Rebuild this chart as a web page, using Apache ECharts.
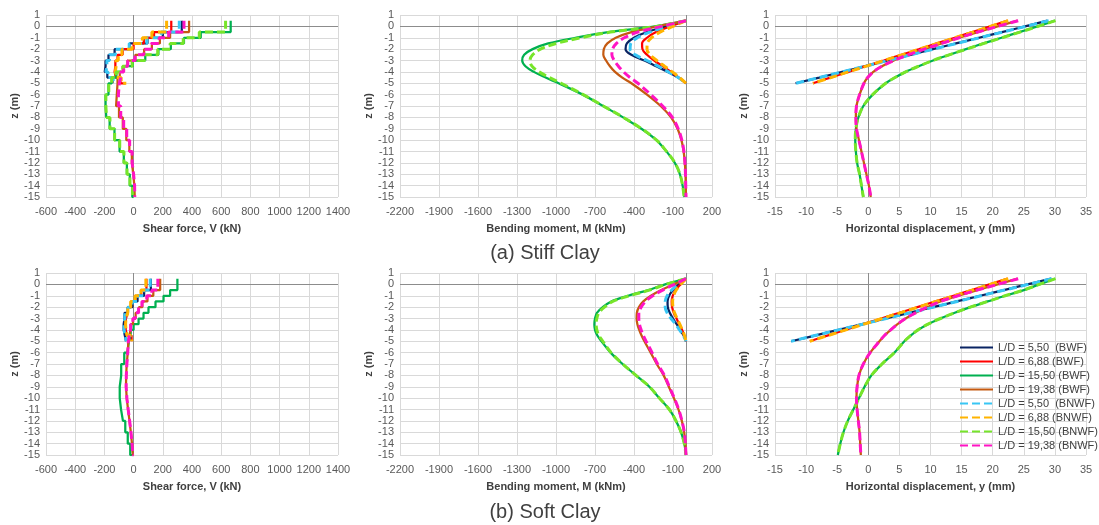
<!DOCTYPE html>
<html>
<head>
<meta charset="utf-8">
<script src="https://cdn.jsdelivr.net/npm/echarts@6/dist/echarts.min.js"></script>
<style>
  html, body { margin: 0; padding: 0; background: #fff; }
  #main { width: 1099px; height: 525px; }
</style>
</head>
<body>
<div id="main"></div>
<script>
// depth nodes (m)
const zShort = [0.5, 0, -0.5, -1, -1.5, -2, -2.5, -3, -3.5, -4, -4.5, -5];
const zLong = [0.5, 0, -0.5, -1, -1.5, -2, -2.5, -3, -3.5, -4, -4.5, -5, -6, -7, -8, -9, -10, -11, -12, -13, -14, -15];

const seriesNames = [
  'L/D = 5,50  (BWF)', 'L/D = 6,88 (BWF)', 'L/D = 15,50 (BWF)', 'L/D = 19,38 (BWF)',
  'L/D = 5,50  (BNWF)', 'L/D = 6,88 (BNWF)', 'L/D = 15,50 (BNWF)', 'L/D = 19,38 (BNWF)'
];
const colors = ['#0A2463', '#FF0000', '#00B050', '#C55A11', '#38C6F4', '#FFB400', '#77E52A', '#FF14C4'];

const xTicksShear = { min: -600, max: 1400, interval: 200 };
const xTicksMoment = { min: -2200, max: 200, interval: 300 };
const xTicksDisp = { min: -15, max: 35, interval: 5 };
const zTicks = { min: -15, max: 1, interval: 1 };

// ---- (a) stiff clay ----
// shear force V (kN)
const stiffV_bwf550 = [330, 330, 200, 95, -28, -130, -172, -192, -198, -180, -145, -145];
const stiffV_bwf688 = [258, 258, 140, 70, 0, -75, -110, -125, -130, -122, -90, -55];
const stiffV_bwf1550 = [665, 665, 460, 345, 255, 170, 80, -5, -70, -118, -150, -172, -192, -187, -164, -131, -96, -67, -46, -26, -9, 0];
const stiffV_bwf1938 = [380, 380, 250, 180, 125, 72, 12, -42, -72, -95, -110, -115, -120, -100, -74, -50, -29, -12, -2, 5, 8, 5];
const stiffV_bnwf550 = [313, 313, 190, 90, -30, -125, -165, -183, -190, -175, -140, -140];
const stiffV_bnwf688 = [226, 226, 125, 60, -10, -80, -105, -120, -125, -118, -85, -50];
const stiffV_bnwf1550 = [630, 630, 450, 340, 250, 165, 75, -10, -75, -120, -150, -170, -190, -185, -162, -130, -95, -66, -45, -25, -8, 0];
const stiffV_bnwf1938 = [345, 345, 240, 175, 120, 70, 10, -40, -68, -88, -98, -104, -104, -88, -68, -47, -27, -10, 0, 7, 8, 5];

// bending moment M (kNm)
const stiffM_bwf550 = [0, -150, -300, -400, -455, -465, -420, -320, -230, -140, -60, 0];
const stiffM_bwf688 = [0, -120, -230, -300, -338, -335, -300, -245, -180, -115, -55, 0];
const stiffM_bwf1550 = [0, -240, -600, -850, -1060, -1180, -1245, -1260, -1235, -1170, -1080, -980, -795, -638, -484, -343, -228, -150, -86, -47, -26, -12];
const stiffM_bwf1938 = [0, -220, -420, -540, -605, -632, -636, -615, -585, -546, -490, -420, -300, -195, -115, -65, -35, -18, -9, -4, -2, 0];
const stiffM_bnwf550 = [0, -140, -280, -375, -425, -430, -390, -300, -215, -135, -60, 0];
const stiffM_bnwf688 = [0, -100, -200, -265, -298, -300, -275, -225, -165, -105, -50, 0];
const stiffM_bnwf1550 = [0, -226, -580, -810, -1000, -1120, -1180, -1200, -1185, -1130, -1050, -960, -790, -636, -482, -341, -226, -149, -85, -46, -26, -15];
const stiffM_bnwf1938 = [0, -190, -370, -475, -535, -565, -570, -552, -520, -480, -430, -370, -270, -180, -105, -60, -32, -16, -8, -4, -2, 0];

// horizontal displacement y (mm)
const stiffY_bwf550 = [28.8, 25.2, 21.5, 17.8, 14.1, 10.4, 6.8, 3.1, -0.5, -4.2, -7.9, -11.7];
const stiffY_bwf688 = [22.4, 19.6, 16.7, 13.9, 11.0, 8.2, 5.3, 2.5, -0.4, -3.2, -6.1, -8.9];
const stiffY_bwf1550 = [30.0, 27.2, 24.3, 21.4, 18.5, 15.7, 13.0, 10.4, 8.1, 6.0, 4.3, 2.8, 0.7, -0.8, -1.6, -2.0, -2.1, -2.0, -1.8, -1.4, -1.1, -0.8];
const stiffY_bwf1938 = [24.0, 20.8, 17.6, 14.6, 11.8, 9.0, 6.4, 4.1, 2.2, 0.8, -0.1, -0.7, -1.4, -1.9, -2.0, -1.9, -1.5, -1.1, -0.7, -0.3, 0.1, 0.4];
const stiffY_bnwf550 = [29.0, 25.3, 21.6, 17.9, 14.2, 10.5, 6.8, 3.2, -0.5, -4.2, -7.9, -11.6];
const stiffY_bnwf688 = [22.5, 19.6, 16.8, 13.9, 11.1, 8.2, 5.4, 2.5, -0.3, -3.2, -6.0, -8.9];
const stiffY_bnwf1550 = [30.1, 27.3, 24.4, 21.5, 18.6, 15.8, 13.0, 10.4, 8.1, 6.0, 4.3, 2.8, 0.7, -0.8, -1.6, -2.0, -2.1, -2.0, -1.8, -1.4, -1.1, -0.8];
const stiffY_bnwf1938 = [24.1, 20.8, 17.6, 14.6, 11.8, 9.0, 6.4, 4.1, 2.2, 0.8, -0.1, -0.7, -1.4, -1.9, -2.0, -1.9, -1.5, -1.1, -0.7, -0.3, 0.1, 0.4];

// ---- (b) soft clay ----
const softV_bwf550 = [118, 118, 72, 27, -8, -40, -62, -68, -68, -60, -52, -52];
const softV_bwf688 = [88, 88, 52, 12, -18, -40, -52, -56, -53, -46, -14, -14];
const softV_bwf1550 = [300, 300, 250, 205, 150, 102, 68, 34, 0, -20, -32, -42, -64, -85, -95, -95, -86, -73, -57, -40, -23, -5];
const softV_bwf1938 = [182, 182, 135, 95, 60, 36, 14, -4, -20, -30, -36, -40, -47, -51, -52, -47, -38, -28, -19, -11, -5, 0];
const softV_bnwf550 = [114, 114, 70, 25, -10, -40, -60, -65, -65, -58, -50, -50];
const softV_bnwf688 = [84, 84, 50, 10, -20, -40, -52, -55, -52, -45, -12, -12];
const softV_bnwf1550 = [];
const softV_bnwf1938 = [166, 166, 125, 90, 57, 34, 12, -5, -20, -30, -36, -40, -46, -50, -51, -46, -37, -27, -18, -11, -5, 0];

const softM_bwf550 = [0, -55, -100, -130, -142, -140, -125, -100, -72, -45, -18, 0];
const softM_bwf688 = [0, -42, -80, -102, -110, -107, -94, -73, -52, -30, -13, 0];
const softM_bwf1550 = [0, -160, -290, -445, -575, -640, -685, -700, -705, -700, -682, -650, -580, -488, -385, -282, -205, -128, -77, -38, -13, 0];
const softM_bwf1938 = [0, -95, -190, -270, -328, -362, -378, -380, -374, -360, -342, -320, -272, -225, -172, -132, -93, -58, -32, -14, -5, 0];
const softM_bnwf550 = [0, -60, -110, -145, -160, -160, -145, -115, -80, -50, -20, 0];
const softM_bnwf688 = [0, -40, -75, -95, -103, -100, -88, -68, -48, -28, -12, 0];
const softM_bnwf1550 = [0, -154, -281, -435, -563, -627, -670, -686, -691, -686, -670, -640, -576, -486, -384, -281, -205, -128, -77, -38, -13, 0];
const softM_bnwf1938 = [0, -90, -179, -256, -312, -345, -363, -363, -358, -345, -328, -307, -261, -218, -166, -128, -90, -56, -31, -13, -5, 0];

const softY_bwf550 = [29.4, 25.6, 21.8, 18.0, 14.2, 10.4, 6.6, 2.8, -1.0, -4.8, -8.6, -12.4];
const softY_bwf688 = [22.4, 19.5, 16.6, 13.7, 10.8, 7.9, 5.0, 2.1, -0.8, -3.7, -6.6, -9.4];
const softY_bwf1550 = [30.0, 27.5, 25.0, 22.0, 19.2, 16.4, 13.9, 11.6, 9.6, 8.0, 6.8, 5.8, 4.2, 2.2, 0.5, -0.6, -1.5, -2.4, -3.3, -4.0, -4.5, -4.9];
const softY_bwf1938 = [24.0, 20.8, 17.5, 14.4, 11.6, 9.5, 7.6, 6.0, 4.7, 3.6, 2.6, 1.8, 0.3, -0.8, -1.5, -1.8, -1.9, -1.8, -1.6, -1.4, -1.3, -1.2];
const softY_bnwf550 = [29.5, 25.7, 21.9, 18.1, 14.3, 10.5, 6.7, 2.9, -0.9, -4.8, -8.6, -12.4];
const softY_bnwf688 = [22.5, 19.6, 16.7, 13.8, 10.9, 8.0, 5.1, 2.2, -0.7, -3.6, -6.5, -9.4];
const softY_bnwf1550 = [30.1, 27.5, 25.0, 22.0, 19.2, 16.4, 13.9, 11.6, 9.6, 8.0, 6.8, 5.8, 4.2, 2.2, 0.5, -0.6, -1.5, -2.4, -3.3, -4.0, -4.5, -4.9];
const softY_bnwf1938 = [24.1, 20.8, 17.5, 14.4, 11.6, 9.5, 7.6, 6.0, 4.7, 3.6, 2.6, 1.8, 0.3, -0.8, -1.5, -1.8, -1.9, -1.8, -1.6, -1.4, -1.3, -1.2];

// plot panels: [values per series], x axis setup, axis name, step or smooth
const panels = [
  { vals: [stiffV_bwf550, stiffV_bwf688, stiffV_bwf1550, stiffV_bwf1938, stiffV_bnwf550, stiffV_bnwf688, stiffV_bnwf1550, stiffV_bnwf1938], ticks: xTicksShear, name: 'Shear force, V (kN)', step: true },
  { vals: [stiffM_bwf550, stiffM_bwf688, stiffM_bwf1550, stiffM_bwf1938, stiffM_bnwf550, stiffM_bnwf688, stiffM_bnwf1550, stiffM_bnwf1938], ticks: xTicksMoment, name: 'Bending moment, M (kNm)' },
  { vals: [stiffY_bwf550, stiffY_bwf688, stiffY_bwf1550, stiffY_bwf1938, stiffY_bnwf550, stiffY_bnwf688, stiffY_bnwf1550, stiffY_bnwf1938], ticks: xTicksDisp, name: 'Horizontal displacement, y (mm)' },
  { vals: [softV_bwf550, softV_bwf688, softV_bwf1550, softV_bwf1938, softV_bnwf550, softV_bnwf688, softV_bnwf1550, softV_bnwf1938], ticks: xTicksShear, name: 'Shear force, V (kN)', step: true },
  { vals: [softM_bwf550, softM_bwf688, softM_bwf1550, softM_bwf1938, softM_bnwf550, softM_bnwf688, softM_bnwf1550, softM_bnwf1938], ticks: xTicksMoment, name: 'Bending moment, M (kNm)' },
  { vals: [softY_bwf550, softY_bwf688, softY_bwf1550, softY_bwf1938, softY_bnwf550, softY_bnwf688, softY_bnwf1550, softY_bnwf1938], ticks: xTicksDisp, name: 'Horizontal displacement, y (mm)' }
];

const gridPos = [
  { left: 46, top: 15, width: 292, height: 182 },
  { left: 400, top: 15, width: 312, height: 182 },
  { left: 775, top: 15, width: 311, height: 182 },
  { left: 46, top: 273, width: 292, height: 182 },
  { left: 400, top: 273, width: 312, height: 182 },
  { left: 775, top: 273, width: 311, height: 182 }
];

const labelColor = '#595959';
const nameColor = '#404040';
const fontFam = '"Liberation Sans", Arial, sans-serif';
const plain = v => String(v);

const xAxes = panels.map((p, i) => ({
  type: 'value', gridIndex: i,
  min: p.ticks.min, max: p.ticks.max, interval: p.ticks.interval,
  name: p.name, nameLocation: 'middle', nameGap: 26,
  nameTextStyle: { fontSize: 11, fontWeight: 'bold', color: nameColor, fontFamily: fontFam },
  axisLine: { show: false }, axisTick: { show: false },
  axisLabel: { fontSize: 11, color: labelColor, margin: 9, fontFamily: fontFam, formatter: plain },
  splitLine: { show: true, lineStyle: { color: '#d9d9d9', width: 1 } }
}));
const yAxes = panels.map((p, i) => ({
  type: 'value', gridIndex: i,
  min: zTicks.min, max: zTicks.max, interval: zTicks.interval,
  name: 'z (m)', nameLocation: 'middle', nameGap: 22,
  nameTextStyle: { fontSize: 11, fontWeight: 'bold', color: nameColor, fontFamily: fontFam },
  axisLine: { show: false }, axisTick: { show: false },
  axisLabel: { fontSize: 11, color: labelColor, margin: 6, fontFamily: fontFam, formatter: plain },
  splitLine: { show: true, lineStyle: { color: '#d9d9d9', width: 1 } }
}));

const series = [];
panels.forEach((p, i) => {
  // zero lines of each panel
  series.push({
    type: 'line', xAxisIndex: i, yAxisIndex: i, data: [], silent: true,
    markLine: {
      z: 1, silent: true, symbol: ['none', 'none'], label: { show: false },
      lineStyle: { color: '#8c8c8c', type: 'solid', width: 1 },
      data: [{ xAxis: 0 }, { yAxis: 0 }]
    }
  });
  p.vals.forEach((xs, k) => {
    if (!xs.length) return;
    const zs = xs.length === zShort.length ? zShort : zLong;
    const dashed = k >= 4;
    const s = {
      name: seriesNames[k], type: 'line', xAxisIndex: i, yAxisIndex: i,
      data: xs.map((x, j) => [x, zs[j]]),
      symbol: 'none', showSymbol: false, z: 2 + k,
      color: colors[k],
      lineStyle: { color: colors[k], width: dashed ? 3 : 2.25, type: dashed ? [8, 4] : 'solid' }
    };
    if (p.step) s.step = 'start'; else s.smooth = 0.35;
    series.push(s);
  });
});

const chart = echarts.init(document.getElementById('main'));
chart.setOption({
  animation: false,
  backgroundColor: '#ffffff',
  textStyle: { fontFamily: fontFam },
  grid: gridPos,
  xAxis: xAxes,
  yAxis: yAxes,
  legend: {
    data: seriesNames, orient: 'vertical', left: 959, top: 342, padding: 0,
    itemWidth: 33, itemHeight: 11, itemGap: 3,
    selectedMode: false,
    itemStyle: { opacity: 0 },
    textStyle: { fontSize: 11, color: nameColor, fontFamily: fontFam }
  },
  graphic: [
    { type: 'text', x: 545, y: 253, style: { text: '(a) Stiff Clay', font: '20px "Liberation Sans", Arial, sans-serif', fill: '#404040', align: 'center', verticalAlign: 'middle' } },
    { type: 'text', x: 545, y: 512, style: { text: '(b) Soft Clay', font: '20px "Liberation Sans", Arial, sans-serif', fill: '#404040', align: 'center', verticalAlign: 'middle' } }
  ],
  series: series
});
</script>
</body>
</html>
